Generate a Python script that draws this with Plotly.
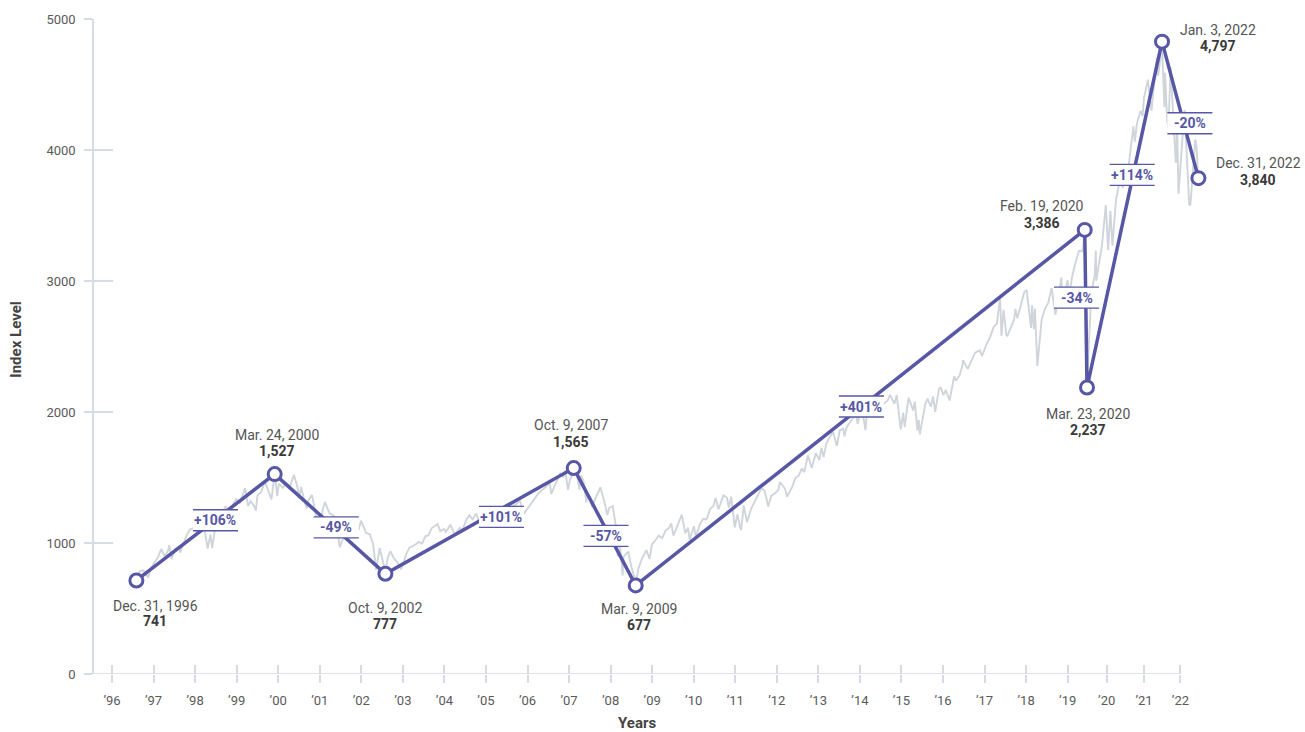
import numpy as np
import pandas as pd
import plotly.graph_objects as go

# ---------------- data ----------------
tick_labels = ["\u201996", "\u201997", "\u201998", "\u201999", "\u201900", "\u201901", "\u201902", "\u201903",
               "\u201904", "\u201905", "\u201906", "\u201907", "\u201908", "\u201909", "\u201910", "\u201911",
               "\u201912", "\u201913", "\u201914", "\u201915", "\u201916", "\u201917", "\u201918", "\u201919",
               "\u201920", "\u201921", "\u201922"]
tick_pos = [1996, 1997, 1998, 1999, 2000, 2001, 2002, 2003, 2004, 2005, 2006, 2007, 2008, 2009,
            2010, 2011, 2012, 2013, 2014, 2015, 2016, 2017, 2018, 2019, 2019.94, 2020.838, 2021.714]

peak_dates = ["1996-12-31", "2000-03-24", "2002-10-09", "2007-10-09", "2009-03-09",
              "2020-02-19", "2020-03-23", "2022-01-03", "2022-12-31"]
peak_date_labels = ["Dec. 31, 1996", "Mar. 24, 2000", "Oct. 9, 2002", "Oct. 9, 2007", "Mar. 9, 2009",
                    "Feb. 19, 2020", "Mar. 23, 2020", "Jan. 3, 2022", "Dec. 31, 2022"]
peak_value_labels = ["741", "1,527", "777", "1,565", "677", "3,386", "2,237", "4,797", "3,840"]
peak_x = [1996.587, 1999.916, 2002.580, 2007.112, 2008.604, 2019.411, 2019.466, 2021.271, 2022.147]
peak_y = [714, 1526, 765, 1572, 676, 3390, 2187, 4827, 3785]

change_labels = ["+106%", "-49%", "+101%", "-57%", "+401%", "-34%", "+114%", "-20%"]
change_x = [1998.491, 2001.396, 2005.374, 2007.889, 2014.036, 2019.213, 2020.553, 2021.942]
change_y = [1173.5, 1118.6, 1198.7, 1053.7, 2041.8, 2872.7, 3809.7, 4204.2]

index_dates = [
    "1996-12-31", "1997-01-31", "1997-02-28", "1997-03-31", "1997-04-11", "1997-04-30", "1997-05-30",
    "1997-06-30", "1997-07-31", "1997-08-29", "1997-09-30", "1997-10-07", "1997-10-27", "1997-11-28",
    "1997-12-31", "1998-01-09", "1998-01-30", "1998-02-27", "1998-03-31", "1998-04-30", "1998-05-29",
    "1998-06-30", "1998-07-17", "1998-08-31", "1998-09-23", "1998-10-08", "1998-10-30", "1998-11-30",
    "1998-12-31", "1999-01-29", "1999-02-26", "1999-03-31", "1999-04-30", "1999-05-31", "1999-06-30",
    "1999-07-16", "1999-08-10", "1999-08-31", "1999-09-30", "1999-10-15", "1999-10-29", "1999-11-30",
    "1999-12-31", "2000-01-31", "2000-02-25", "2000-03-24", "2000-04-14", "2000-04-28", "2000-05-31",
    "2000-06-30", "2000-07-31", "2000-09-01", "2000-09-29", "2000-10-18", "2000-10-31", "2000-11-30",
    "2000-12-20", "2000-12-29", "2001-01-31", "2001-02-28", "2001-03-22", "2001-04-04", "2001-04-30",
    "2001-05-21", "2001-06-29", "2001-07-31", "2001-08-31", "2001-09-21", "2001-10-31", "2001-11-30",
    "2001-12-31", "2002-01-31", "2002-02-28", "2002-03-19", "2002-04-30", "2002-05-31", "2002-06-28",
    "2002-07-23", "2002-08-22", "2002-09-30", "2002-10-09", "2002-10-31", "2002-11-27", "2002-12-31",
    "2003-01-31", "2003-03-11", "2003-03-31", "2003-04-30", "2003-05-30", "2003-06-30", "2003-07-31",
    "2003-08-29", "2003-09-30", "2003-10-31", "2003-11-28", "2003-12-31", "2004-01-30", "2004-02-27",
    "2004-03-24", "2004-04-30", "2004-05-17", "2004-06-30", "2004-08-12", "2004-09-30", "2004-10-25",
    "2004-11-30", "2004-12-31", "2005-01-31", "2005-03-07", "2005-04-20", "2005-05-31", "2005-06-30",
    "2005-08-02", "2005-08-31", "2005-09-30", "2005-10-13", "2005-11-30", "2005-12-30", "2006-01-31",
    "2006-02-28", "2006-03-31", "2006-05-05", "2006-06-13", "2006-07-31", "2006-08-31", "2006-09-29",
    "2006-10-31", "2006-11-30", "2006-12-29", "2007-02-20", "2007-03-05", "2007-03-30", "2007-04-30",
    "2007-05-31", "2007-06-29", "2007-07-19", "2007-08-15", "2007-08-31", "2007-09-28", "2007-10-09",
    "2007-10-31", "2007-11-26", "2007-12-10", "2007-12-31", "2008-01-22", "2008-01-31", "2008-02-29",
    "2008-03-10", "2008-03-31", "2008-04-30", "2008-05-19", "2008-06-30", "2008-07-15", "2008-07-31",
    "2008-08-29", "2008-09-29", "2008-10-10", "2008-10-31", "2008-11-20", "2008-11-28", "2009-01-06",
    "2009-01-30", "2009-02-27", "2009-03-09", "2009-03-31", "2009-04-30", "2009-05-29", "2009-06-12",
    "2009-07-10", "2009-07-31", "2009-08-31", "2009-09-30", "2009-10-30", "2009-11-30", "2009-12-31",
    "2010-01-19", "2010-02-08", "2010-03-31", "2010-04-23", "2010-05-25", "2010-06-18", "2010-07-02",
    "2010-08-09", "2010-08-26", "2010-09-30", "2010-10-29", "2010-11-30", "2010-12-31", "2011-01-31",
    "2011-02-18", "2011-03-16", "2011-04-29", "2011-05-31", "2011-06-16", "2011-07-07", "2011-08-08",
    "2011-08-31", "2011-09-22", "2011-10-03", "2011-10-27", "2011-11-25", "2011-12-30", "2012-01-31",
    "2012-02-29", "2012-04-02", "2012-04-30", "2012-06-01", "2012-06-29", "2012-07-31", "2012-08-31",
    "2012-09-14", "2012-10-31", "2012-11-15", "2012-12-31", "2013-01-31", "2013-02-28", "2013-03-28",
    "2013-04-18", "2013-05-21", "2013-06-24", "2013-07-31", "2013-08-30", "2013-09-18", "2013-10-08",
    "2013-10-31", "2013-11-29", "2013-12-31", "2014-02-03", "2014-02-28", "2014-03-31", "2014-04-11",
    "2014-04-30", "2014-05-30", "2014-06-30", "2014-07-24", "2014-08-07", "2014-08-29", "2014-09-18",
    "2014-10-15", "2014-10-31", "2014-11-28", "2014-12-16", "2014-12-29", "2015-01-15", "2015-02-27",
    "2015-03-10", "2015-03-31", "2015-04-30", "2015-05-21", "2015-06-30", "2015-07-20", "2015-08-25",
    "2015-09-16", "2015-09-29", "2015-10-30", "2015-11-03", "2015-12-14", "2015-12-29", "2016-01-20",
    "2016-02-01", "2016-02-11", "2016-03-31", "2016-04-20", "2016-05-19", "2016-06-08", "2016-06-27",
    "2016-07-31", "2016-08-15", "2016-09-09", "2016-09-30", "2016-11-03", "2016-11-30", "2016-12-13",
    "2016-12-30", "2017-01-31", "2017-02-28", "2017-03-01", "2017-04-13", "2017-05-31", "2017-06-19",
    "2017-07-31", "2017-08-18", "2017-09-29", "2017-10-31", "2017-11-30", "2017-12-29", "2018-01-26",
    "2018-02-08", "2018-02-26", "2018-03-23", "2018-04-02", "2018-04-30", "2018-05-31", "2018-06-12",
    "2018-06-28", "2018-07-31", "2018-08-29", "2018-09-20", "2018-10-29", "2018-11-07", "2018-11-23",
    "2018-12-03", "2018-12-24", "2019-01-31", "2019-02-28", "2019-03-31", "2019-04-30", "2019-06-03",
    "2019-07-26", "2019-08-05", "2019-08-30", "2019-09-19", "2019-10-02", "2019-10-31", "2019-11-29",
    "2019-12-31", "2020-01-31", "2020-02-19", "2020-03-23", "2020-04-30", "2020-05-29", "2020-06-08",
    "2020-06-11", "2020-07-31", "2020-09-02", "2020-09-23", "2020-10-12", "2020-10-30", "2020-11-30",
    "2020-12-31", "2021-01-29", "2021-02-26", "2021-03-04", "2021-03-31", "2021-04-30", "2021-05-12",
    "2021-05-31", "2021-06-30", "2021-07-19", "2021-07-30", "2021-09-02", "2021-10-04", "2021-11-18",
    "2021-11-30", "2021-12-27", "2022-01-03", "2022-01-27", "2022-02-02", "2022-02-23", "2022-03-08",
    "2022-03-29", "2022-05-02", "2022-05-20", "2022-06-02", "2022-06-16", "2022-07-29", "2022-08-16",
    "2022-09-30", "2022-10-12", "2022-11-30", "2022-12-13", "2022-12-28", "2022-12-31"]
index_values = [
    741, 786, 791, 757, 737, 801, 848, 885, 954, 899, 947, 983, 877, 955,
    970, 927, 980, 1049, 1102, 1112, 1091, 1134, 1187, 957, 1066, 960, 1099, 1164,
    1229, 1280, 1238, 1286, 1335, 1302, 1373, 1418, 1282, 1320, 1283, 1247, 1363, 1389,
    1469, 1394, 1333, 1527, 1357, 1452, 1421, 1455, 1431, 1521, 1437, 1342, 1429, 1315,
    1264, 1320, 1366, 1240, 1117, 1103, 1249, 1312, 1224, 1211, 1134, 966, 1060, 1139,
    1148, 1130, 1107, 1170, 1077, 1067, 990, 797, 962, 815, 777, 886, 938, 880,
    856, 800, 848, 917, 964, 975, 990, 1008, 996, 1051, 1058, 1112, 1131, 1145,
    1091, 1107, 1084, 1141, 1064, 1115, 1095, 1174, 1212, 1181, 1225, 1138, 1192, 1191,
    1245, 1220, 1229, 1177, 1249, 1248, 1280, 1281, 1295, 1325, 1223, 1277, 1304, 1336,
    1378, 1401, 1418, 1459, 1374, 1421, 1482, 1531, 1503, 1553, 1406, 1474, 1527, 1565,
    1549, 1407, 1516, 1468, 1310, 1379, 1331, 1273, 1323, 1386, 1426, 1280, 1214, 1267,
    1283, 1106, 899, 969, 752, 896, 935, 826, 735, 677, 798, 873, 919, 946,
    879, 987, 1021, 1057, 1036, 1096, 1115, 1150, 1056, 1169, 1217, 1074, 1118, 1023,
    1128, 1047, 1141, 1183, 1181, 1258, 1286, 1343, 1257, 1364, 1345, 1268, 1353, 1119,
    1219, 1130, 1099, 1285, 1159, 1258, 1312, 1366, 1419, 1398, 1278, 1362, 1379, 1407,
    1466, 1412, 1353, 1426, 1498, 1515, 1569, 1541, 1669, 1573, 1686, 1633, 1725, 1656,
    1757, 1806, 1848, 1741, 1859, 1872, 1815, 1884, 1924, 1960, 1988, 1910, 2003, 2011,
    1862, 2018, 2068, 1973, 2091, 1993, 2105, 2044, 2068, 2086, 2131, 2063, 2129, 1867,
    1996, 1884, 2079, 2109, 2012, 2078, 1859, 1940, 1829, 2060, 2102, 2040, 2119, 2001,
    2174, 2190, 2128, 2168, 2088, 2199, 2271, 2239, 2279, 2364, 2396, 2329, 2412, 2453,
    2470, 2426, 2519, 2575, 2648, 2674, 2873, 2581, 2780, 2588, 2582, 2648, 2705, 2787,
    2716, 2816, 2914, 2931, 2641, 2814, 2633, 2790, 2351, 2704, 2784, 2834, 2946, 2744,
    3026, 2844, 2926, 3006, 2887, 3038, 3141, 3231, 3226, 3386, 2237, 2912, 3044, 3232,
    3002, 3271, 3580, 3237, 3535, 3270, 3622, 3756, 3714, 3811, 3768, 3973, 4181, 4063,
    4204, 4298, 4258, 4395, 4537, 4300, 4705, 4567, 4791, 4797, 4327, 4589, 4226, 4171,
    4632, 4155, 3901, 4177, 3667, 4130, 4305, 3586, 3577, 4080, 4019, 3783, 3840]


def frac_year(dates):
    d = pd.to_datetime(pd.Series(dates))
    days = np.where(d.dt.is_leap_year, 366.0, 365.0)
    return (d.dt.year + (d.dt.dayofyear - 1) / days).to_numpy()


# place the daily series on the chart's axis, using the highlighted dates as anchors
index_x = np.interp(frac_year(index_dates), frac_year(peak_dates), peak_x)

# ---------------- style / layout ----------------
PURPLE = "#5757a6"
GRAY = "#cfd5db"
AXIS = "#d6dce4"
FONT = "Roboto"
X0, X1 = 1995.567, 2023.22

label_offsets = [(19, -26, -41), (2, 39, 23), (0, -34, -50), (-3, 43, 26), (3, -24, -40),
                 (-43, 24, 7), (1, -26, -42), (56, 12, -4), (60, 15, -2)]

fig = go.Figure()
fig.add_trace(go.Scatter(x=index_x, y=index_values, mode="lines",
                         line=dict(color=GRAY, width=1.9), hoverinfo="skip", showlegend=False))
fig.add_trace(go.Scatter(x=peak_x, y=peak_y, mode="lines+markers",
                         line=dict(color=PURPLE, width=3.5),
                         marker=dict(size=13, color="white", line=dict(color=PURPLE, width=3)),
                         cliponaxis=False, showlegend=False, hoverinfo="skip"))
# helper traces for the overlay axes (inner halves of the tick marks)
fig.add_trace(go.Scatter(x=[2000], y=[0], xaxis="x", yaxis="y2", mode="markers",
                         marker=dict(opacity=0), hoverinfo="skip", showlegend=False))
fig.add_trace(go.Scatter(x=[2000], y=[0], xaxis="x2", yaxis="y", mode="markers",
                         marker=dict(opacity=0), hoverinfo="skip", showlegend=False))

shapes = [dict(type="line", xref="x", yref="y", x0=X0, x1=tick_pos[-1], y0=0, y1=0,
               line=dict(color=AXIS, width=1.5), layer="below")]
annotations = []
for lab, cx, cy in zip(change_labels, change_x, change_y):
    shapes.append(dict(type="rect", xref="x", yref="y", xsizemode="pixel", ysizemode="pixel",
                       xanchor=cx, yanchor=cy, x0=-22.5, x1=22.5, y0=-10.5, y1=10.5,
                       fillcolor="white", line=dict(width=0), layer="above"))
    for yy in (-10.5, 10.5):
        shapes.append(dict(type="line", xref="x", yref="y", xsizemode="pixel", ysizemode="pixel",
                           xanchor=cx, yanchor=cy, x0=-22.5, x1=22.5, y0=yy, y1=yy,
                           line=dict(color=PURPLE, width=1.3), layer="above"))
    annotations.append(dict(x=cx, y=cy, xref="x", yref="y", text=f"<b>{lab}</b>", showarrow=False,
                            font=dict(family=FONT, size=14, color=PURPLE),
                            xanchor="center", yanchor="middle"))

for px_, py_, dl, vl, (dx, dyd, dyv) in zip(peak_x, peak_y, peak_date_labels, peak_value_labels, label_offsets):
    annotations.append(dict(x=px_, y=py_, xref="x", yref="y", text=dl, showarrow=False,
                            xshift=dx, yshift=dyd, xanchor="center", yanchor="middle",
                            font=dict(family=FONT, size=14, color="#555555")))
    annotations.append(dict(x=px_, y=py_, xref="x", yref="y", text=f"<b>{vl}</b>", showarrow=False,
                            xshift=dx, yshift=dyv, xanchor="center", yanchor="middle",
                            font=dict(family=FONT, size=14, color="#3a3a3a")))

annotations.append(dict(x=0.4726, y=0, xref="paper", yref="paper", yshift=-49, text="<b>Years</b>",
                        showarrow=False, xanchor="center", yanchor="middle",
                        font=dict(family=FONT, size=15, color="#444444")))
annotations.append(dict(x=0, y=0.5104, xref="paper", yref="paper", xshift=-78, text="<b>Index Level</b>",
                        textangle=-90, showarrow=False, xanchor="center", yanchor="middle",
                        font=dict(family=FONT, size=15, color="#444444")))

tickfont = dict(family=FONT, size=13, color="#5a5a5a")
fig.update_layout(
    width=1305, height=732,
    margin=dict(l=94, r=62, t=19, b=58),
    paper_bgcolor="white", plot_bgcolor="white",
    font=dict(family=FONT),
    xaxis=dict(range=[X0, X1], tickmode="array", tickvals=tick_pos, ticktext=tick_labels,
               ticks="outside", ticklen=8, tickwidth=1.5, tickcolor=AXIS, tickfont=tickfont,
               showline=False, showgrid=False, zeroline=False, ticklabelstandoff=6),
    xaxis2=dict(range=[X0, X1], overlaying="x", anchor="y", side="bottom", tickmode="array",
                tickvals=tick_pos, ticks="inside", ticklen=9, tickwidth=1.5, tickcolor=AXIS,
                showticklabels=False, showline=False, showgrid=False, zeroline=False),
    yaxis=dict(range=[0, 5000], tickmode="array", tickvals=[0, 1000, 2000, 3000, 4000, 5000],
               ticktext=["0", "1000", "2000", "3000", "4000", "5000"],
               ticks="outside", ticklen=8, tickwidth=1.5, tickcolor=AXIS, tickfont=tickfont,
               showline=True, linecolor=AXIS, linewidth=1.5,
               showgrid=False, zeroline=False, ticklabelstandoff=6),
    yaxis2=dict(range=[0, 5000], overlaying="y", anchor="x", side="left", tickmode="array",
                tickvals=[0, 1000, 2000, 3000, 4000, 5000], ticks="inside", ticklen=19, tickwidth=1.5,
                tickcolor=AXIS, showticklabels=False, showline=False, showgrid=False, zeroline=False),
    shapes=shapes,
    annotations=annotations,
)

fig.write_html("out.html", config={"displayModeBar": False},
               post_script="document.body.style.margin='0';document.body.style.overflow='hidden';")
